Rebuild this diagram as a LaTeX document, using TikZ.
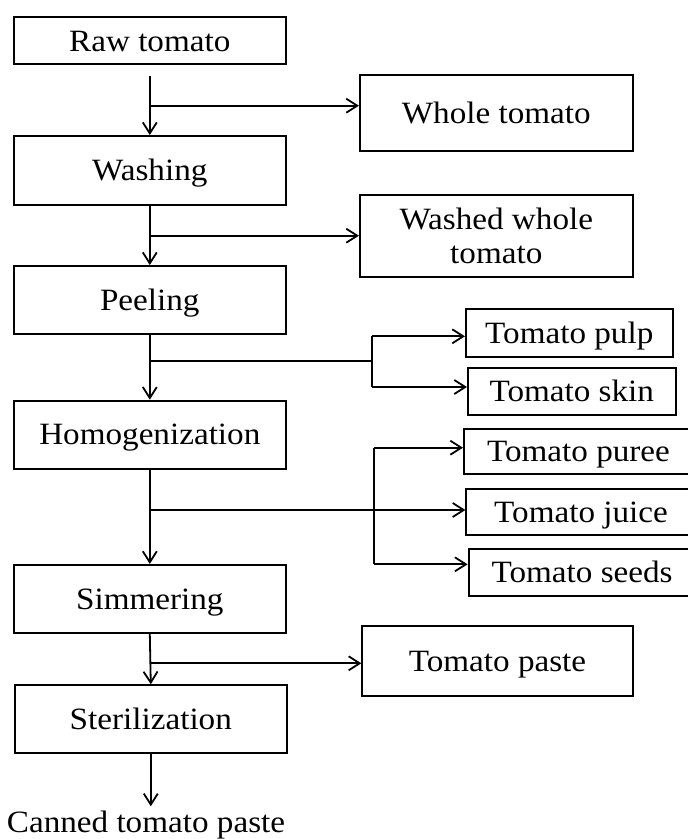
\documentclass[tikz,border=0pt]{standalone}
\usepackage{fontspec}
\setmainfont{Liberation Serif}[FakeStretch=1.07]
\usetikzlibrary{arrows.meta}
\tikzset{
  box/.style={draw, line width=2pt, inner sep=0pt,
    font=\fontsize{31}{34}\selectfont},
  onebox/.style={box, text height=20.5pt, text depth=0pt},
  conn/.style={line width=1.8pt},
  arr/.style={conn, -{Straight Barb[length=11pt,width=14pt]}},
  lbl/.style={inner sep=0pt, font=\fontsize{31}{34}\selectfont}
}
\begin{document}
\begin{tikzpicture}[x=1pt,y=-1pt]
\useasboundingbox (0,0) rectangle (688,839);
\clip (0,0) rectangle (688,839);
% main column
\node[onebox, minimum width=272.5pt, minimum height=47pt] (raw) at (149.8,40.8) {Raw tomato};
\node[onebox, minimum width=272.5pt, minimum height=69.3pt] (washing) at (149.8,170.7) {Washing};
\node[onebox, minimum width=272.5pt, minimum height=68.3pt] (peeling) at (149.8,300.2) {Peeling};
\node[onebox, minimum width=272.5pt, minimum height=68pt] (homog) at (149.8,434.7) {Homogenization};
\node[onebox, minimum width=272.5pt, minimum height=67.7pt] (simmer) at (149.8,598.8) {Simmering};
\node[onebox, minimum width=272.5pt, minimum height=68pt] (steril) at (150.8,719.3) {Sterilization};
\node[lbl, anchor=base, inner sep=4pt] (canned) at (146,832) {Canned tomato paste};
% side products
\node[onebox, minimum width=272.7pt, minimum height=76pt] (whole) at (496.3,113.3) {Whole tomato};
\node[box, align=center, minimum width=272.7pt, minimum height=82pt] (washed) at (496.3,236) {Washed whole\\tomato};
\node[onebox, minimum width=206.7pt, minimum height=47.4pt] (pulp) at (569.3,333) {Tomato pulp};
\node[onebox, minimum width=207.7pt, minimum height=46.7pt] (skin) at (571.8,391.3) {Tomato skin};
\node[onebox, minimum width=229pt, minimum height=45.6pt] (puree) at (578.5,451.5) {Tomato puree};
\node[onebox, minimum width=229.2pt, minimum height=46.3pt] (juice) at (581,512.2) {Tomato juice};
\node[onebox, minimum width=227pt, minimum height=46.4pt] (seeds) at (582.1,572.5) {Tomato seeds};
\node[onebox, minimum width=270.3pt, minimum height=69.4pt] (paste) at (497.5,661) {Tomato paste};
% junction coordinates
\coordinate (j1) at (150,105.7);
\coordinate (j2) at (150,235.7);
\coordinate (j3) at (150,360.7);
\coordinate (j4) at (150,510);
\coordinate (j5) at (150,663.3);
\coordinate (p1) at (372,336.3);
\coordinate (p2) at (372,387);
\coordinate (q1) at (374,447.7);
\coordinate (q2) at (374,564.3);
% main flow
\draw[arr] ([yshift=-11pt]raw.south) -- (washing.north);
\draw[arr] (washing.south) -- (peeling.north);
\draw[arr] (peeling.south) -- (homog.north);
\draw[arr] (homog.south) -- (simmer.north);
\draw[arr] (simmer.south) -- (steril.north);
\draw[arr] (steril.south) -- (steril.south |- canned.north);
% branches
\draw[arr] (j1) -- (j1 -| whole.west);
\draw[arr] (j2) -- (j2 -| washed.west);
\draw[conn] (j3) -- (j3 -| p1);
\draw[conn] (p1) -- (p2);
\draw[arr] (p1) -- (p1 -| pulp.west);
\draw[arr] (p2) -- (p2 -| skin.west);
\draw[arr] (j4) -- (j4 -| juice.west);
\draw[conn] (q1) -- (q2);
\draw[arr] (q1) -- (q1 -| puree.west);
\draw[arr] (q2) -- (q2 -| seeds.west);
\draw[arr] (j5) -- (j5 -| paste.west);
\end{tikzpicture}
\end{document}
